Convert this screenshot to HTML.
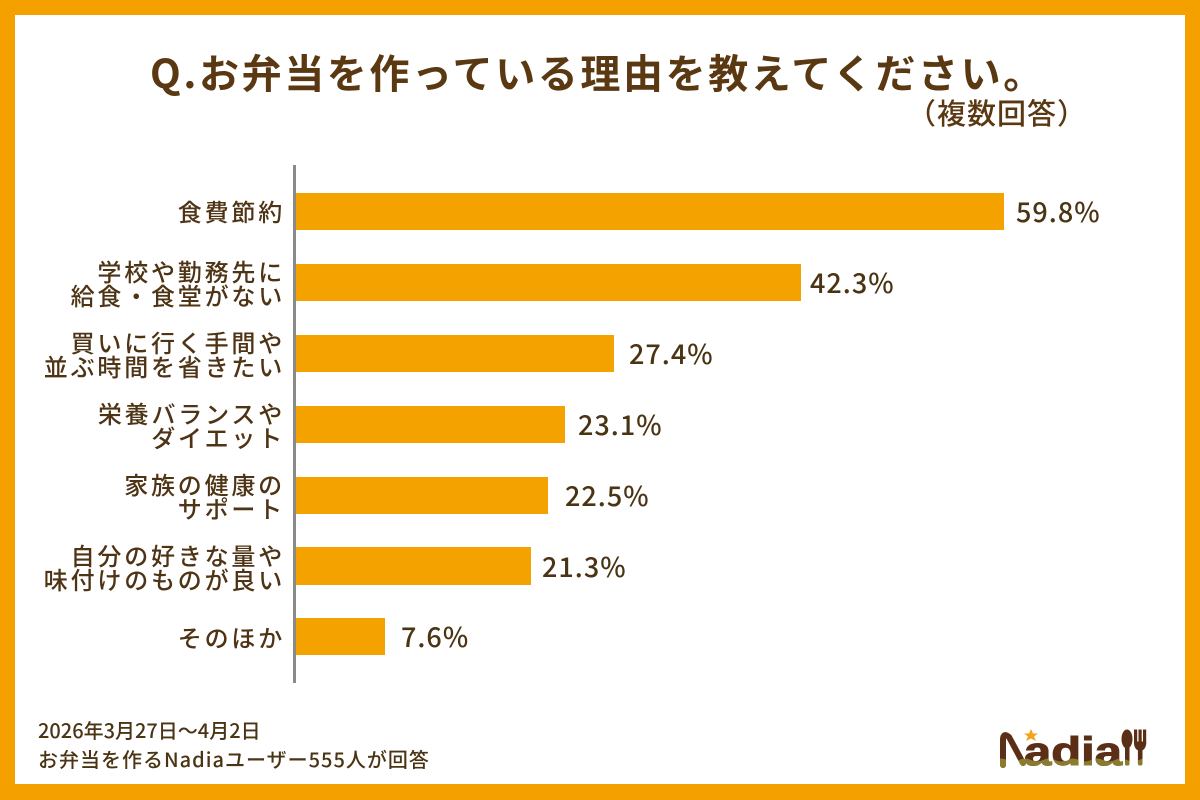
<!DOCTYPE html>
<html>
<head>
<meta charset="utf-8">
<style>
  html,body{margin:0;padding:0;}
  body{width:1200px;height:800px;position:relative;overflow:hidden;background:#F4A100;
    font-family:"Liberation Sans","Noto Sans CJK JP",sans-serif;}
  .panel{position:absolute;left:15px;top:15px;width:1170px;height:769px;background:#fff;}
  .abs{position:absolute;white-space:nowrap;}
  .title{left:150px;top:51px;font-family:"Noto Sans CJK JP",sans-serif;font-size:40px;line-height:40px;
    font-weight:700;color:#5a3812;letter-spacing:2.6px;}
  .sub{left:907px;top:98px;font-family:"Noto Sans CJK JP",sans-serif;font-size:29px;line-height:29px;
    font-weight:500;color:#5a3812;letter-spacing:1px;}
  .axis{left:293px;top:165px;width:3px;height:518px;background:#8a8a8a;}
  .bar{left:296px;height:37px;background:#F3A200;}
  .lab{right:915px;text-align:right;font-family:"Noto Sans CJK JP",sans-serif;font-size:24px;line-height:24px;
    font-weight:500;color:#4e3314;letter-spacing:2.8px;}
  .val{font-family:"Noto Sans CJK JP",sans-serif;font-size:27px;line-height:37px;color:#4a3414;font-weight:500;letter-spacing:1px;}
  .foot{left:38px;font-family:"Noto Sans CJK JP",sans-serif;font-size:20px;line-height:20px;color:#4a3414;font-weight:500;}
</style>
</head>
<body>
<div class="panel"></div>

<div class="abs title">Q.お弁当を作っている理由を教えてください。</div>
<div class="abs sub">（複数回答）</div>

<div class="abs axis"></div>

<!-- bars -->
<div class="abs bar" style="top:193px;width:708px;"></div>
<div class="abs bar" style="top:264px;width:505px;"></div>
<div class="abs bar" style="top:335px;width:318px;"></div>
<div class="abs bar" style="top:406px;width:269px;"></div>
<div class="abs bar" style="top:477px;width:252px;"></div>
<div class="abs bar" style="top:547px;width:235px;height:38px;"></div>
<div class="abs bar" style="top:618px;width:89px;"></div>

<!-- category labels -->
<div class="abs lab" style="top:199px;">食費節約</div>
<div class="abs lab" style="top:259px;">学校や勤務先に<br>給食・食堂がない</div>
<div class="abs lab" style="top:330px;">買いに行く手間や<br>並ぶ時間を省きたい</div>
<div class="abs lab" style="top:401px;">栄養バランスや<br>ダイエット</div>
<div class="abs lab" style="top:472px;">家族の健康の<br>サポート</div>
<div class="abs lab" style="top:543px;">自分の好きな量や<br>味付けのものが良い</div>
<div class="abs lab" style="top:625px;">そのほか</div>

<!-- values -->
<div class="abs val" style="left:1016px;top:192px;">59.8%</div>
<div class="abs val" style="left:810px;top:263px;">42.3%</div>
<div class="abs val" style="left:629px;top:334px;">27.4%</div>
<div class="abs val" style="left:578px;top:405px;">23.1%</div>
<div class="abs val" style="left:565px;top:476px;">22.5%</div>
<div class="abs val" style="left:542px;top:547px;">21.3%</div>
<div class="abs val" style="left:401px;top:617px;">7.6%</div>

<!-- footer -->
<div class="abs foot" style="top:720px;">2026年3月27日～4月2日</div>
<div class="abs foot" style="top:749px;letter-spacing:1px;">お弁当を作るNadiaユーザー555人が回答</div>

<!-- logo -->
<svg class="abs" style="left:995px;top:722px;" width="160" height="50" viewBox="0 0 160 50">
  <defs>
    <clipPath id="wave">
      <path d="M0,38 Q6,35 12,38 T24,38 T36,38 T48,38 T60,38 T72,38 T84,38 T96,38 T108,38 T120,38 T132,38 T144,38 T156,38 L160,38 L160,50 L0,50 Z"/>
    </clipPath>
    <g id="glyphs">
      <path d="M8,43 L8,18 Q8,10 14,15 L28,41" fill="none" stroke-width="6" stroke-linecap="round" stroke-linejoin="round"/>
      <text x="29" y="43" font-family="Liberation Sans, sans-serif" font-weight="700" font-size="40" textLength="98" lengthAdjust="spacingAndGlyphs">adia</text>
      <ellipse cx="132" cy="17" rx="5" ry="9"/>
      <rect x="130.5" y="22" width="3.5" height="21" rx="1.5"/>
      <rect x="139.5" y="8" width="2.2" height="14"/>
      <rect x="144" y="8" width="2.2" height="14"/>
      <rect x="148.5" y="8" width="2.2" height="14"/>
      <path d="M139.5,20 L150.7,20 Q150.7,27 146.5,28 L143.8,28 Q139.5,27 139.5,20 Z"/>
      <rect x="143.4" y="26" width="3.6" height="17" rx="1.5"/>
    </g>
  </defs>
  <g fill="#5b2f17" stroke="#5b2f17"><use href="#glyphs"/></g>
  <g fill="#8a7b2e" stroke="#8a7b2e" clip-path="url(#wave)"><use href="#glyphs"/></g>
  <path d="M36,7 L38,11.5 L43,11.5 L39,14.5 L41,19 L36,16.5 L31,19 L33,14.5 L29,11.5 L34,11.5 Z" fill="#F4A21A"/>
</svg>
</body>
</html>
